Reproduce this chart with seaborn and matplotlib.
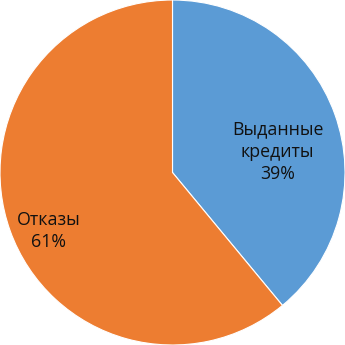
import matplotlib
matplotlib.use("Agg")
import matplotlib.pyplot as plt
import seaborn as sns

sns.set_style("white")
plt.rcParams['font.family'] = ['Open Sans', 'DejaVu Sans']

categories = ["Выданные\nкредиты", "Отказы"]
values = [39, 61]
colors = ["#5B9BD5", "#ED7D31"]

fig = plt.figure(figsize=(3.45, 3.45), dpi=100)
ax = fig.add_axes([0, 0, 1, 1])
wedges, _ = ax.pie(values, colors=colors, startangle=90, counterclock=False,
                   radius=1.0, wedgeprops=dict(linewidth=0.8, edgecolor="white"))
label_pos = [(0.61, 0.12), (-0.72, -0.34)]
for cat, v, (x, y) in zip(categories, values, label_pos):
    ax.text(x, y, f"{cat}\n{v}%", ha="center", va="center", fontsize=12.8,
            color="#111111", linespacing=1.32)
ax.set_xlim(-1.0, 1.0)
ax.set_ylim(-1.0, 1.0)
ax.set_aspect("equal")
ax.axis("off")
fig.savefig("out.png", dpi=100, facecolor="white")
